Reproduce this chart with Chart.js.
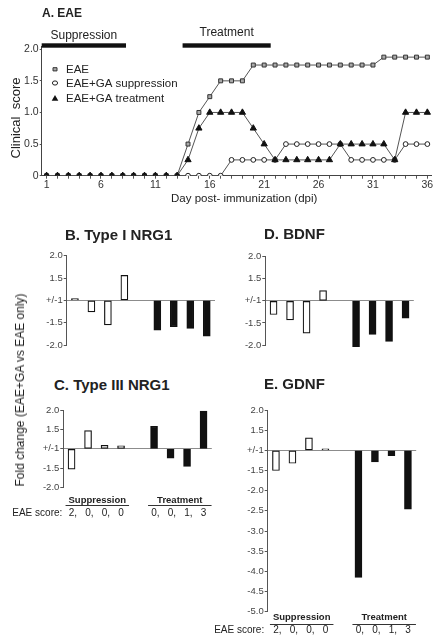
<!DOCTYPE html>
<html>
<head>
<meta charset="utf-8">
<script src="https://cdn.jsdelivr.net/npm/chart.js@4.4.1/dist/chart.umd.min.js"></script>
<style>
  body { margin: 0; background: #fff; width: 444px; height: 642px; position: relative; overflow: hidden;
         font-family: "Liberation Sans", Arial, sans-serif; color: #222; }
  canvas { position: absolute; }
  .t { position: absolute; white-space: pre; line-height: 1; }
  .ttl { font-weight: bold; font-size: 15px; }
  .rot { transform: translate(-50%, -50%) rotate(-90deg); }
</style>
</head>
<body>
<canvas id="cA" width="444" height="200" style="left:0;top:0"></canvas>
<canvas id="cB" width="222" height="110" style="left:0;top:245px"></canvas>
<canvas id="cD" width="222" height="110" style="left:222px;top:245px"></canvas>
<canvas id="cC" width="222" height="125" style="left:0;top:400px"></canvas>
<canvas id="cE" width="232" height="242" style="left:212px;top:400px"></canvas>

<div class="t" style="left:42px;top:7px;font-weight:bold;font-size:12px">A. EAE</div>
<div class="t" style="left:171px;top:193px;font-size:11.5px">Day post- immunization (dpi)</div>
<div class="t rot" style="left:15px;top:118px;font-size:13px">Clinical  score</div>
<div class="t ttl" style="left:65px;top:227px">B. Type I NRG1</div>
<div class="t ttl" style="left:264px;top:226px">D. BDNF</div>
<div class="t ttl" style="left:54px;top:377px">C. Type III NRG1</div>
<div class="t ttl" style="left:264px;top:376px">E. GDNF</div>
<div class="t rot" style="left:20px;top:390px;font-size:12px">Fold change (EAE+GA vs EAE only)</div>

<script>
const FONT = '"Liberation Sans", Arial, sans-serif';

// panel A: clinical score per day
const days = Array.from({ length: 36 }, (_, i) => i + 1);
const eae = [0, 0, 0, 0, 0, 0, 0, 0, 0, 0, 0, 0, 0, 0.5, 1.0, 1.25, 1.5, 1.5, 1.5,
  1.75, 1.75, 1.75, 1.75, 1.75, 1.75, 1.75, 1.75, 1.75, 1.75, 1.75, 1.75,
  1.875, 1.875, 1.875, 1.875, 1.875];
const gaSuppression = [0, 0, 0, 0, 0, 0, 0, 0, 0, 0, 0, 0, 0, 0, 0, 0, 0,
  0.25, 0.25, 0.25, 0.25, 0.25, 0.5, 0.5, 0.5, 0.5, 0.5, 0.5,
  0.25, 0.25, 0.25, 0.25, 0.25, 0.5, 0.5, 0.5];
const gaTreatment = [0, 0, 0, 0, 0, 0, 0, 0, 0, 0, 0, 0, 0, 0.25, 0.75, 1.0, 1.0, 1.0, 1.0,
  0.75, 0.5, 0.25, 0.25, 0.25, 0.25, 0.25, 0.25, 0.5, 0.5, 0.5, 0.5, 0.5,
  0.25, 1.0, 1.0, 1.0];
const seriesNames = ['EAE', 'EAE+GA suppression', 'EAE+GA treatment'];
const phaseNames = ['Suppression', 'Treatment'];
const phaseStart = [0.55, 13.5];
const phaseEnd = [8.3, 21.6];
const yTicksA = [0, 0.5, 1, 1.5, 2];

// panels B-E: fold change (EAE+GA vs EAE only)
const suppLabels = ['S1', 'S2', 'S3', 'S4'];
const treatLabels = ['T1', 'T2', 'T3', 'T4'];
const suppScores = [2, 0, 0, 0];
const treatScores = [0, 0, 1, 3];
const typeI = [1.04, -1.26, -1.55, 1.56, -1.67, -1.59, -1.63, -1.8];
const typeIII = [-1.52, 1.47, 1.09, 1.08, 1.58, -1.24, -1.45, 1.97];
const bdnf = [-1.31, -1.43, -1.73, 1.23, -2.04, -1.76, -1.92, -1.39];
const gdnf = [-1.5, -1.32, 1.31, 1.04, -4.15, -1.29, -1.13, -2.46];

// ---------- panel A ----------
const phasePlugin = {
  id: 'phases',
  afterDraw(chart) {
    const { ctx, chartArea, scales: { x } } = chart;
    ctx.save();
    phaseNames.forEach((name, i) => {
      const x0 = x.getPixelForValue(phaseStart[i]);
      const x1 = x.getPixelForValue(phaseEnd[i]);
      ctx.fillStyle = '#111';
      ctx.fillRect(x0, chartArea.top - 3.4, x1 - x0, 4.4);
      ctx.font = '12px ' + FONT;
      ctx.textAlign = 'center';
      ctx.textBaseline = 'middle';
      ctx.fillStyle = '#222';
      ctx.fillText(name, (x0 + x1) / 2, chartArea.top - (i === 0 ? 11.5 : 14.5));
    });
    ctx.restore();
  }
};

function marker(ctx, style, x, y) {
  ctx.lineWidth = 1;
  ctx.beginPath();
  if (style === 'rect') {
    ctx.rect(x - 2, y - 1.6, 4, 3.2);
    ctx.fillStyle = '#aaa'; ctx.strokeStyle = '#333';
    ctx.fill(); ctx.stroke();
  } else if (style === 'circle') {
    ctx.ellipse(x, y, 2.6, 2.1, 0, 0, Math.PI * 2);
    ctx.fillStyle = '#fff'; ctx.strokeStyle = '#222';
    ctx.fill(); ctx.stroke();
  } else {
    ctx.moveTo(x, y - 3.2); ctx.lineTo(x + 3.3, y + 2.4); ctx.lineTo(x - 3.3, y + 2.4); ctx.closePath();
    ctx.fillStyle = '#111';
    ctx.fill();
  }
}

const legendPlugin = {
  id: 'innerLegend',
  afterDraw(chart) {
    const { ctx, chartArea } = chart;
    const styles = ['rect', 'circle', 'triangle'];
    const dy = [22.6, 36.3, 51.6];
    ctx.save();
    seriesNames.forEach((name, i) => {
      const y = chartArea.top + dy[i];
      marker(ctx, styles[i], chartArea.left + 13.3, y);
      ctx.font = '11.5px ' + FONT;
      ctx.fillStyle = '#222';
      ctx.textAlign = 'left';
      ctx.textBaseline = 'middle';
      ctx.fillText(name, chartArea.left + 24.3, y + 0.5);
    });
    ctx.restore();
  }
};

const lineStyle = { borderColor: '#555', borderWidth: 1, tension: 0, pointBorderWidth: 1 };

new Chart(document.getElementById('cA'), {
  type: 'line',
  data: {
    labels: days,
    datasets: [
      { ...lineStyle, label: seriesNames[2], data: gaTreatment.map((v, i) => ({ x: days[i], y: v })),
        pointStyle: 'triangle', pointRadius: 3.6, pointBackgroundColor: '#111', pointBorderColor: '#111', order: 0 },
      { ...lineStyle, label: seriesNames[1], data: gaSuppression.map((v, i) => ({ x: days[i], y: v })),
        pointStyle: 'circle', pointRadius: 2.4, pointBackgroundColor: '#fff', pointBorderColor: '#222', order: 1 },
      { ...lineStyle, label: seriesNames[0], data: eae.map((v, i) => ({ x: days[i], y: v })),
        pointStyle: 'rect', pointRadius: 2.8, pointBackgroundColor: '#aaa', pointBorderColor: '#333', order: 2 }
    ]
  },
  options: {
    responsive: false, animation: false, devicePixelRatio: 1,
    layout: { padding: { top: 46.7, right: 12.3, left: 0, bottom: 0 } },
    plugins: { legend: { display: false }, tooltip: { enabled: false } },
    scales: {
      x: {
        type: 'linear', min: 0.55, max: 36.4,
        afterBuildTicks: s => { s.ticks = days.map(d => ({ value: d })); },
        afterFit: s => { s.height = 24.3; },
        grid: { drawOnChartArea: false, tickLength: 3, color: '#555' },
        border: { color: '#444' },
        ticks: { autoSkip: false, maxRotation: 0, padding: 0, color: '#333',
                 font: { family: FONT, size: 10.5 },
                 callback: v => ((v - 1) % 5 === 0 ? String(v) : '') }
      },
      y: {
        min: 0, max: 2.04,
        afterBuildTicks: s => { s.ticks = yTicksA.map(v => ({ value: v })); },
        afterFit: s => { s.width = 41.7; },
        grid: { drawOnChartArea: false, tickLength: 2, color: '#555' },
        border: { color: '#444' },
        ticks: { padding: 1, color: '#333', font: { family: FONT, size: 10.5 },
                 callback: v => (v === 0 ? '0' : v.toFixed(1)) }
      }
    }
  },
  plugins: [phasePlugin, legendPlugin]
});

// ---------- fold change panels ----------
const toAxis = f => (f > 0 ? f - 1 : f + 1);
const foldLabel = v => (Math.abs(v) < 1e-9 ? '+/-1' : (v > 0 ? v + 1 : v - 1).toFixed(1));

const groupNotes = {
  id: 'groupNotes',
  afterDraw(chart, args, o) {
    if (!o || !o.show) return;
    const { ctx, chartArea } = chart;
    const x = chart.scales.x;
    const b = chartArea.bottom;
    const groups = [
      { name: 'Suppression', scores: suppScores, start: 0 },
      { name: 'Treatment', scores: treatScores, start: 5 }
    ];
    ctx.save();
    groups.forEach(g => {
      const u0 = x.getPixelForValue(g.start) - 6;
      const u1 = x.getPixelForValue(g.start + 3) + 8;
      ctx.font = 'bold 9.5px ' + FONT;
      ctx.fillStyle = '#222';
      ctx.textAlign = 'center';
      ctx.textBaseline = 'middle';
      ctx.fillText(g.name, (u0 + u1) / 2, b + o.titleDy);
      ctx.strokeStyle = '#333';
      ctx.lineWidth = 1;
      ctx.beginPath();
      ctx.moveTo(u0, b + o.lineDy + 0.5);
      ctx.lineTo(u1, b + o.lineDy + 0.5);
      ctx.stroke();
      ctx.font = '10px ' + FONT;
      ctx.textAlign = 'left';
      g.scores.forEach((s, i) => {
        const cx = x.getPixelForValue(g.start + i);
        ctx.fillText(String(s) + (i < g.scores.length - 1 ? ',' : ''), cx - 2.8, b + o.scoreDy);
      });
    });
    ctx.font = '10px ' + FONT;
    ctx.textAlign = 'right';
    ctx.fillText('EAE score:', chartArea.left - o.labelGap, b + o.scoreDy);
    ctx.restore();
  }
};

function foldChart(id, values, yMin, box, notes) {
  const vals = values.map(toAxis);
  const data = [...vals.slice(0, 4), null, ...vals.slice(4)];
  const colors = [...suppLabels.map(() => '#fff'), '#fff', ...treatLabels.map(() => '#111')];
  new Chart(document.getElementById(id), {
    type: 'bar',
    data: {
      labels: [...suppLabels, '', ...treatLabels],
      datasets: [{
        data: data, backgroundColor: colors, borderColor: '#111', borderWidth: 1.2,
        borderSkipped: false, barThickness: 7, clip: false
      }]
    },
    options: {
      responsive: false, animation: false, devicePixelRatio: 1,
      layout: { padding: { top: box.top, right: box.right, bottom: box.bottom, left: 0 } },
      plugins: { legend: { display: false }, tooltip: { enabled: false }, groupNotes: notes },
      scales: {
        x: { display: false },
        y: {
          min: yMin, max: 1,
          afterFit: s => { s.width = box.left; },
          grid: {
            color: c => (c.tick && Math.abs(c.tick.value) < 1e-9 ? '#8c8c8c' : 'rgba(0,0,0,0)'),
            tickColor: '#555', tickLength: 3
          },
          border: { color: '#555' },
          ticks: { stepSize: 0.5, padding: 1, color: '#444', font: { family: FONT, size: 9.5 },
                   callback: v => foldLabel(v) }
        }
      }
    },
    plugins: [groupNotes]
  });
}

foldChart('cB', typeI, -1, { left: 66.7, right: 7, top: 10.7, bottom: 10 }, { show: false });
foldChart('cD', bdnf, -1, { left: 43.3, right: 30.2, top: 11.7, bottom: 10 }, { show: false });
foldChart('cC', typeIII, -1, { left: 63.3, right: 10.2, top: 10, bottom: 37.3 },
  { show: true, titleDy: 12.3, lineDy: 17.3, scoreDy: 25.6, labelGap: 1 });
foldChart('cE', gdnf, -4, { left: 55.7, right: 27.8, top: 10, bottom: 30.3 },
  { show: true, titleDy: 6, lineDy: 12.3, scoreDy: 18.3, labelGap: 3.5 });
</script>
</body>
</html>
